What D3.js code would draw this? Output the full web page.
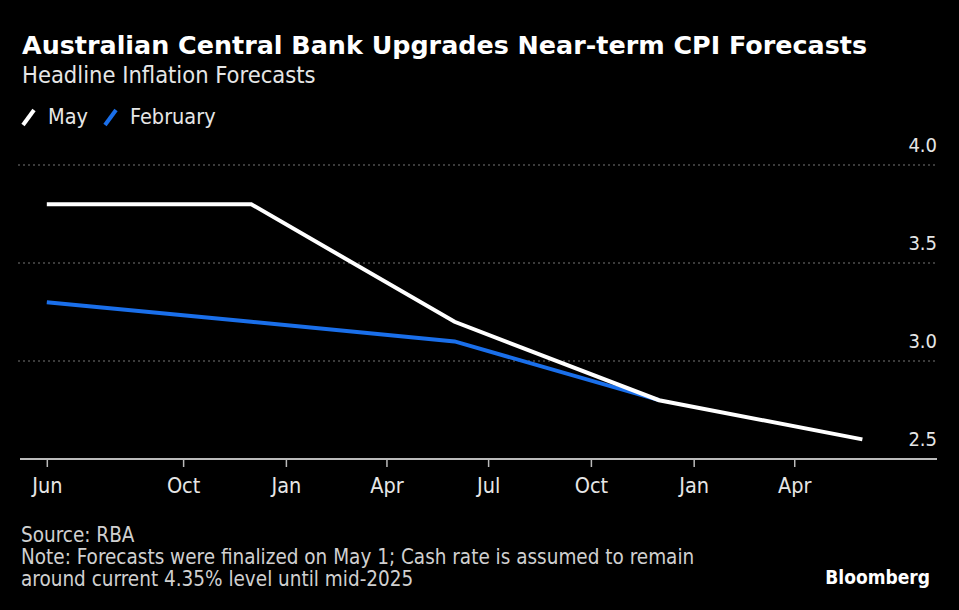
<!DOCTYPE html>
<html>
<head>
<meta charset="utf-8">
<script src="https://cdn.jsdelivr.net/npm/d3@7"></script>
<style>
  body { margin: 0; background: #000; }
  text { font-family: "DejaVu Sans Condensed", "DejaVu Sans", sans-serif; }
</style>
</head>
<body>
<svg id="chart" width="959" height="610"></svg>
<script>
// data
const mayDates = ["2024-06-01", "2024-12-01", "2025-06-01", "2025-12-01", "2026-06-01"]
const mayValues = [3.8, 3.8, 3.2, 2.8, 2.6]
const febDates = ["2024-06-01", "2024-12-01", "2025-06-01", "2025-12-01"]
const febValues = [3.3, 3.2, 3.1, 2.8]
const yTicks = [2.5, 3.0, 3.5, 4.0]
const xTicks = ["2024-06-01", "2024-10-01", "2025-01-01", "2025-04-01", "2025-07-01", "2025-10-01", "2026-01-01", "2026-04-01"]

const parse = d3.timeParse("%Y-%m-%d")

let may = mayDates.map(function(d, i) { return { date: parse(d), value: mayValues[i] } })
let feb = febDates.map(function(d, i) { return { date: parse(d), value: febValues[i] } })

let margin = { left: 20, right: 24, top: 165, bottom: 151 }
let width = 959
let height = 610

let svg = d3.select("#chart")

svg.append("rect").attr("width", width).attr("height", height).attr("fill", "#000")

let x = d3.scaleTime()
  .domain([parse("2024-05-08"), parse("2026-08-05")])
  .range([margin.left, width - margin.right])

let y = d3.scaleLinear()
  .domain([2.5, 4.0])
  .range([height - margin.bottom, margin.top])

// ***** titles *****
svg.append("text")
  .attr("x", 22).attr("y", 54)
  .attr("fill", "#fff")
  .attr("font-size", 25.4)
  .attr("font-weight", "bold")
  .style("font-family", "'DejaVu Sans', sans-serif")
  .text("Australian Central Bank Upgrades Near-term CPI Forecasts")

svg.append("text")
  .attr("x", 22).attr("y", 83)
  .attr("fill", "#e6e6e6")
  .attr("font-size", 23.5)
  .text("Headline Inflation Forecasts")

// ***** legend *****
let legend = [{ name: "May", color: "#ffffff", x: 22 }, { name: "February", color: "#1a6fea", x: 104 }]
legend.forEach(function(l) {
  svg.append("line")
    .attr("x1", l.x + 1).attr("y1", 125)
    .attr("x2", l.x + 12).attr("y2", 110)
    .attr("stroke", l.color)
    .attr("stroke-width", 4)
  svg.append("text")
    .attr("x", l.x + 26).attr("y", 124)
    .attr("fill", "#e6e6e6")
    .attr("font-size", 21.5)
    .text(l.name)
})

// ***** grid + y labels *****
svg.append("g")
  .selectAll("line")
  .data(yTicks.filter(function(d) { return d > 2.5 }))
  .enter()
  .append("line")
  .attr("x1", 18).attr("x2", width - margin.right)
  .attr("y1", function(d) { return y(d) })
  .attr("y2", function(d) { return y(d) })
  .attr("stroke", "#777")
  .attr("stroke-width", 1)
  .attr("stroke-dasharray", "2,3")

svg.append("g")
  .selectAll("text")
  .data(yTicks)
  .enter()
  .append("text")
  .attr("x", 937)
  .attr("y", function(d) { return y(d) - 13 })
  .attr("text-anchor", "end")
  .attr("fill", "#e6e6e6")
  .attr("font-size", 20)
  .text(function(d) { return d3.format(".1f")(d) })

// ***** x axis *****
let xAxis = d3.axisBottom(x)
  .tickValues(xTicks.map(parse))
  .tickFormat(d3.timeFormat("%b"))
  .tickSize(8)
  .tickPadding(11)

let xg = svg.append("g")
  .attr("transform", "translate(0," + y(2.5) + ")")
  .call(xAxis)

xg.select(".domain").attr("stroke", "#bbb").attr("stroke-width", 2).attr("d", "M" + margin.left + ",0H" + (width - margin.right + 2))
xg.selectAll(".tick line").attr("stroke", "#bbb").attr("stroke-width", 1.5)
xg.selectAll(".tick text")
  .attr("fill", "#e6e6e6")
  .attr("font-size", 21.5)
  .style("font-family", "'DejaVu Sans Condensed', 'DejaVu Sans', sans-serif")

// ***** lines *****
let line = d3.line()
  .x(function(d) { return x(d.date) })
  .y(function(d) { return y(d.value) })

svg.append("path")
  .datum(feb)
  .attr("d", line)
  .attr("fill", "none")
  .attr("stroke", "#1a6fea")
  .attr("stroke-width", 4)

svg.append("path")
  .datum(may)
  .attr("d", line)
  .attr("fill", "none")
  .attr("stroke", "#ffffff")
  .attr("stroke-width", 4)

// ***** footer *****
let notes = ["Source: RBA",
  "Note: Forecasts were finalized on May 1; Cash rate is assumed to remain",
  "around current 4.35% level until mid-2025"]
svg.append("g")
  .selectAll("text")
  .data(notes)
  .enter()
  .append("text")
  .attr("x", 21)
  .attr("y", function(d, i) { return 542 + i * 22 })
  .attr("fill", "#d0d0d0")
  .attr("font-size", 20.5)
  .text(function(d) { return d })

svg.append("text")
  .attr("x", 930).attr("y", 584)
  .attr("text-anchor", "end")
  .attr("fill", "#fff")
  .attr("font-size", 19)
  .attr("font-weight", "bold")
  .text("Bloomberg")
</script>
</body>
</html>
